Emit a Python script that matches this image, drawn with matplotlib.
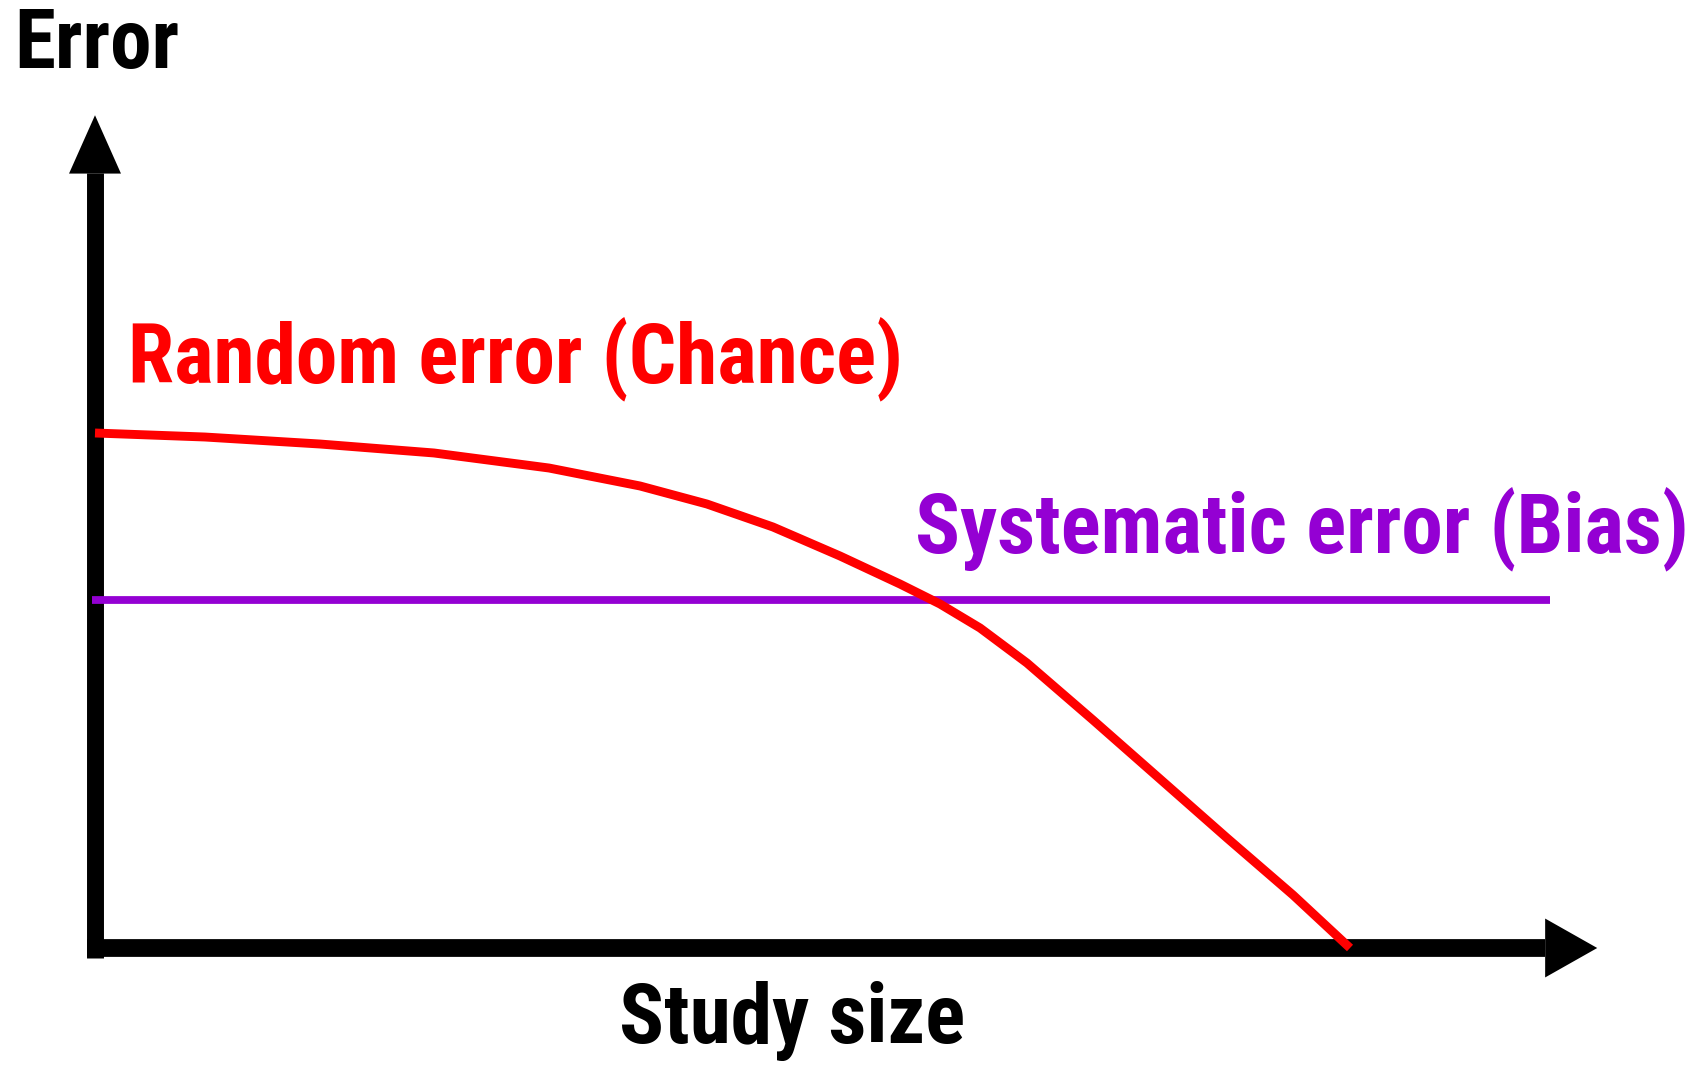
import matplotlib
matplotlib.use("Agg")
import matplotlib.pyplot as plt

# Dane (rozmiar badania 0-100, blad 0-100)
study_size = [0, 8.76, 17.93, 27.01, 36.18, 43.43, 48.76, 54.02, 59.36, 64.14,
              67.33, 70.52, 74.26, 79.52, 84.86, 90.20, 95.46, 100]
random_error = [100, 99.22, 97.86, 96.12, 93.20, 89.71, 86.21, 81.75, 76.12, 70.68,
                66.80, 62.14, 55.34, 44.27, 32.82, 21.36, 10.29, 0]
bias_x = [-0.2, 115.9]
bias_level = 67.6

labels = {
    "y": "Error",
    "x": "Study size",
    "random": "Random error (Chance)",
    "bias": "Systematic error (Bias)",
}

RED = "#ff0000"
PURPLE = "#9400d3"
FONT = ["Roboto Condensed", "Liberation Sans", "DejaVu Sans"]

fig = plt.figure(figsize=(16.96, 10.65), dpi=100)
ax = fig.add_axes([95 / 1696, 117 / 1065, 1255 / 1696, 515 / 1065])
ax.set_xlim(0, 100)
ax.set_ylim(0, 100)
ax.axis("off")

# osie ze strzalkami
ax.plot([0, 0], [-1.9, 150.5], color="black", lw=12.2, solid_capstyle="butt", clip_on=False)
ax.plot([-0.64, 115.5], [0, 0], color="black", lw=12.8, solid_capstyle="butt", clip_on=False)
ax.annotate("", xy=(0, 161.7), xytext=(0, 150.5), annotation_clip=False,
            arrowprops=dict(arrowstyle="-|>,head_length=4.2,head_width=1.87",
                            mutation_scale=10, lw=0, fc="black", ec="black",
                            shrinkA=0, shrinkB=0))
ax.annotate("", xy=(119.7, 0), xytext=(115.5, 0), annotation_clip=False,
            arrowprops=dict(arrowstyle="-|>,head_length=3.75,head_width=2.12",
                            mutation_scale=10, lw=0, fc="black", ec="black",
                            shrinkA=0, shrinkB=0))

# linie bledow
ax.plot(bias_x, [bias_level, bias_level], color=PURPLE, lw=5.6, solid_capstyle="butt", clip_on=False)
ax.plot(study_size, random_error, color=RED, lw=6.4, solid_capstyle="butt",
        solid_joinstyle="round", clip_on=False)

# podpisy
txt = dict(fontsize=60, fontweight="bold", family=FONT, ha="left", va="baseline", clip_on=False)
ax.text(-6.4, 170.9, labels["y"], color="black", **txt)
ax.text(41.75, -18.4, labels["x"], color="black", **txt)
ax.text(2.6, 109.9, labels["random"], color=RED, **txt)
ax.text(65.3, 76.9, labels["bias"], color=PURPLE, **txt)

fig.savefig("out.png", dpi=100, facecolor="white")
